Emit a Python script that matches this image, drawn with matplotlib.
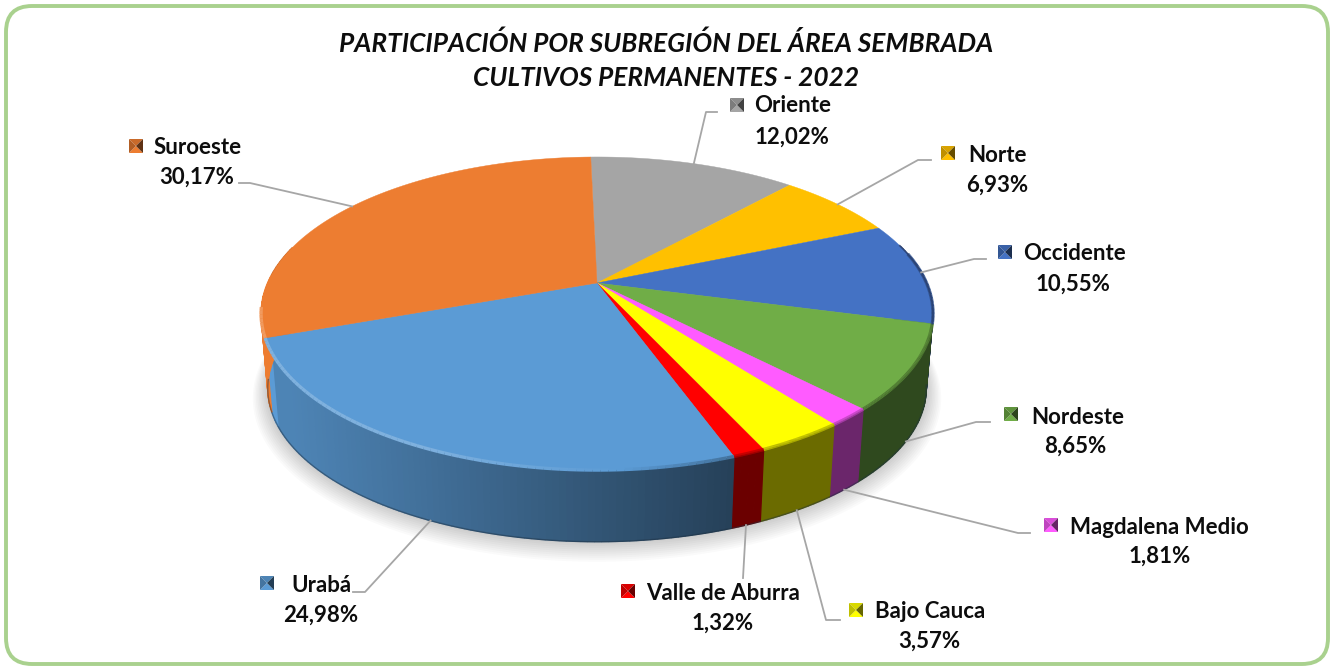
import numpy as np
import matplotlib
matplotlib.use('Agg')
import matplotlib.pyplot as plt
from matplotlib.collections import LineCollection
from matplotlib.patches import FancyBboxPatch, Polygon

plt.rcParams['font.family'] = ['Lato', 'DejaVu Sans']

# Data, clockwise from the back of the pie
subregiones = ['Oriente', 'Norte', 'Occidente', 'Nordeste', 'Magdalena Medio',
               'Bajo Cauca', 'Valle de Aburra', 'Urabá', 'Suroeste']
valores = [12.02, 6.93, 10.55, 8.65, 1.81, 3.57, 1.32, 24.98, 30.17]
colores = ['#a5a5a5', '#ffc000', '#4472c4', '#70ad47', '#ff5bff',
           '#ffff00', '#ff0000', '#5b9bd5', '#ed7d31']
titulo = ['PARTICIPACIÓN POR SUBREGIÓN DEL ÁREA SEMBRADA', 'CULTIVOS PERMANENTES - 2022']

# Label layout in pixels: key centre, name left, name y, percent centre, percent y
layout = {
    'Oriente': (737, 105, 754, 106, 792, 137),
    'Norte': (948, 153, 968, 155, 997, 185),
    'Occidente': (1005, 252, 1023, 254, 1073, 284),
    'Nordeste': (1011, 414, 1031, 417, 1075, 446),
    'Magdalena Medio': (1051, 525, 1070, 527, 1160, 556),
    'Bajo Cauca': (856, 610, 875, 612, 929, 641),
    'Valle de Aburra': (628, 591, 646, 593, 723, 623),
    'Urabá': (267, 583, 291, 585, 321, 615),
    'Suroeste': (136, 146, 154, 147, 197, 177),
}
# Leader lines: label end, elbow, which rim they touch, angle shift
leaders = {
    'Oriente': ((717, 112), (706, 112), 'top', 0),
    'Norte': ((931, 160), (918, 160), 'top', 0),
    'Occidente': ((986, 259), (974, 259), 'top', 0),
    'Nordeste': ((990, 422), (976, 422), 'bottom', 0),
    'Magdalena Medio': ((1030, 533), (1018, 533), 'bottom', 0),
    'Bajo Cauca': ((840, 620), (826, 620), 'bottom', 0),
    'Valle de Aburra': ((743, 578), (743, 578), 'bottom', 0),
    'Urabá': ((353, 592), (365, 592), 'bottom', 0),
    'Suroeste': ((239, 183), (250, 183), 'top', 0),
}

# Perspective of the pie
CX, CY = 597, 283
RX, RY, K = 329.5, 150.6, 0.195
START = -1.3
DEPTH = 75.4
BOTTOM_SCALE = 0.98


def rim(deg, bottom=False):
    t = np.radians(deg)
    x, y = np.sin(t), -np.cos(t)
    d = 1 - K * y
    sx, sy = RX * x / d, RY * y / d
    if bottom:
        return CX + BOTTOM_SCALE * sx, CY + DEPTH + BOTTOM_SCALE * sy
    return CX + sx, CY + sy


def shade(color, f):
    return tuple(np.array(matplotlib.colors.to_rgb(color)) * f)


def side_factor(x):
    if x < 272:
        return 1.0
    return float(np.clip(0.85 - (x - 290) / (730 - 290) * (0.85 - 0.42), 0.42, 0.85))


def bevel_color(c, x):
    # light on the left of the front rim, fading out and turning dark on the right
    rgb = np.array(matplotlib.colors.to_rgb(c))
    if x < 620:
        m = np.clip((620 - x) / 200, 0, 1) * 0.22
        return tuple(rgb * (1 - m) + m)
    return tuple(rgb * (1 - np.clip((x - 620) / 120, 0, 1) * 0.28))


fig = plt.figure(figsize=(13.34, 6.69), dpi=100)
ax = fig.add_axes([0, 0, 1, 1])
ax.set_xlim(0, 1334)
ax.set_ylim(669, 0)
ax.axis('off')

ax.add_patch(FancyBboxPatch((31, 31), 1272, 608, boxstyle='round,pad=25,rounding_size=26',
                            fc='white', ec='#a9d18e', lw=2.8, zorder=0))

# soft shadow under the pie
all_deg = np.linspace(0, 360, 361)
bx, by = rim(all_deg, bottom=True)
for grow in np.arange(15, 0, -1.5):
    sx = CX + (bx - CX) * (1 + grow / 330)
    sy = by + grow * 0.6 + (by - by.mean()) * grow / 230
    ax.fill(sx, sy, color='black', alpha=0.018, lw=0, zorder=1)

edges = START + np.cumsum([0] + valores) * 3.6

# side wall, front half only
for i, c in enumerate(colores):
    a, b = edges[i], edges[i + 1]
    d = np.linspace(a, b, max(int(b - a), 2) + 1)
    for d0, d1 in zip(d[:-1], d[1:]):
        mid = (d0 + d1) / 2
        if np.cos(np.radians(mid)) > 0.25:
            continue
        x0, y0 = rim(d0)
        x1, y1 = rim(d1)
        x2, y2 = rim(d1, True)
        x3, y3 = rim(d0, True)
        col = shade(c, side_factor((x0 + x1) / 2))
        ax.add_patch(Polygon([(x0, y0), (x1, y1), (x2, y2), (x3, y3)], fc=col, ec=col,
                             lw=0.9, zorder=2))

# dark line along the foot of the wall
fd = np.linspace(100, 262, 200)
fx, fy = rim(fd, True)
ax.plot(fx, fy, color='#1c2f40', lw=1.0, alpha=0.45, zorder=2.5)

# top face
for i, c in enumerate(colores):
    d = np.linspace(edges[i], edges[i + 1], 80)
    x, y = rim(d)
    ax.add_patch(Polygon(np.column_stack([np.r_[CX, x], np.r_[CY, y]]), fc=c, ec=c,
                         lw=0.3, zorder=3))
    # bevel along the front rim
    front = d[(d > 78) & (d < 262)]
    if len(front) > 1:
        fx, fy = rim(front)
        pts = np.column_stack([fx, fy])
        segs = np.stack([pts[:-1], pts[1:]], axis=1)
        cols = [bevel_color(c, s) for s in (fx[:-1] + fx[1:]) / 2]
        ax.add_collection(LineCollection(segs, colors=cols, linewidths=2.4, zorder=4,
                                         capstyle='butt'))

# thin dark edge at the back right of the top face
ed = np.linspace(edges[2] + 8, edges[3], 40)
ex, ey = rim(ed)
ax.plot(ex, ey, color='#2a3f6e', lw=1.2, alpha=0.8, zorder=4)

# labels, keys and leader lines
for i, nombre in enumerate(subregiones):
    kx, ky, nx, ny, px, py = layout[nombre]
    c = matplotlib.colors.to_rgb(colores[i])
    h = 7
    caras = [([(kx - h, ky - h), (kx + h, ky - h), (kx, ky)], 0.85),
             ([(kx - h, ky + h), (kx + h, ky + h), (kx, ky)], 1.0),
             ([(kx - h, ky - h), (kx - h, ky + h), (kx, ky)], 0.75),
             ([(kx + h, ky - h), (kx + h, ky + h), (kx, ky)], 0.4)]
    for pts, f in caras:
        ax.add_patch(Polygon(pts, fc=shade(c, f), ec='none', zorder=6))
    ax.text(nx, ny, nombre, fontsize=16, fontweight='bold', color='#0d0d0d',
            ha='left', va='center', zorder=7)
    ax.text(px, py, f'{valores[i]:.2f}%'.replace('.', ','), fontsize=16, fontweight='bold',
            color='#0d0d0d', ha='center', va='center', zorder=7)

    end, elbow, which, shift = leaders[nombre]
    ang = (edges[i] + edges[i + 1]) / 2 + shift
    ax_, ay_ = rim(ang, bottom=which == 'bottom')
    ax.plot([end[0], elbow[0], ax_], [end[1], elbow[1], ay_], color='#a6a6a6', lw=1.3, zorder=5)

for linea, y in zip(titulo, [43, 78]):
    ax.text(666, y, linea, fontsize=18.9, fontweight='bold', fontstyle='italic', color='#0d0d0d',
            ha='center', va='center', zorder=7)

fig.savefig('out.png', dpi=100)
